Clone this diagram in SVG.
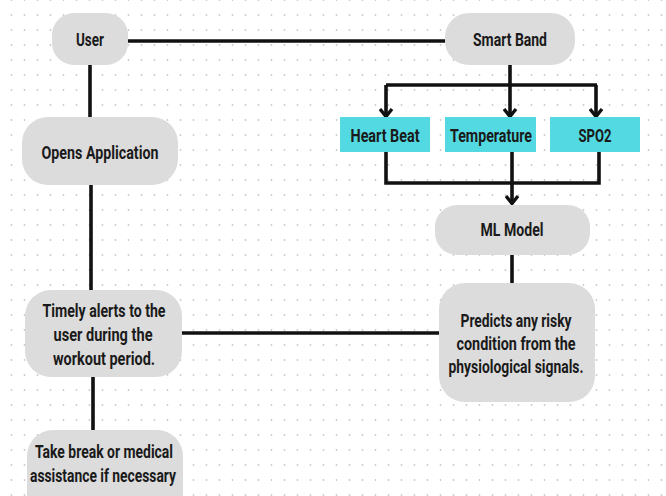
<svg xmlns="http://www.w3.org/2000/svg" width="666" height="496" viewBox="0 0 666 496">
<defs>
<pattern id="dots" x="5" y="8" width="13" height="15" patternUnits="userSpaceOnUse">
<circle cx="6.5" cy="7" r="0.9" fill="#c8c8c8"/>
</pattern>
<marker id="arr" markerWidth="12" markerHeight="15" viewBox="0 0 12 15" refX="10" refY="7.5" orient="auto" markerUnits="userSpaceOnUse">
<path d="M2,1.5 L9.5,7.5 L2,13.5" fill="none" stroke="#111" stroke-width="3.4" stroke-linejoin="miter"/>
</marker>
<style>
.n{fill:#dcdcdc}
.c{fill:#52d9e1}
.t{font-family:Roboto,"Liberation Sans",sans-serif;font-weight:bold;font-size:18px;fill:#1a1a1a;text-anchor:middle}
.e{fill:none;stroke:#111;stroke-width:3.6}
</style>
</defs>
<rect width="666" height="496" fill="#ffffff"/>
<rect width="666" height="496" fill="url(#dots)"/>
<g id="connectors">
<line class="e" x1="128" y1="41" x2="445" y2="41"/>
<line class="e" x1="90" y1="65" x2="90" y2="117"/>
<line class="e" x1="91" y1="185" x2="91" y2="290"/>
<line class="e" x1="93" y1="377" x2="93" y2="430"/>
<polyline class="e" points="510,65 510,85"/>
<line class="e" x1="386" y1="85" x2="597" y2="85"/>
<line class="e" x1="386" y1="85" x2="386" y2="117" marker-end="url(#arr)"/>
<line class="e" x1="510" y1="85" x2="510" y2="117" marker-end="url(#arr)"/>
<line class="e" x1="596" y1="85" x2="596" y2="117" marker-end="url(#arr)"/>
<polyline class="e" points="386,152 386,183 599,183 599,152"/>
<line class="e" x1="512" y1="152" x2="512" y2="204" marker-end="url(#arr)"/>
<line class="e" x1="512" y1="255" x2="512" y2="283"/>
<line class="e" x1="182" y1="333" x2="439" y2="333"/>
</g>
<g id="user">
<rect class="n" x="52" y="13" width="76" height="52" rx="22"/>
<text class="t" x="90" y="46" textLength="28" lengthAdjust="spacingAndGlyphs">User</text>
</g>
<g id="smart-band">
<rect class="n" x="445" y="13" width="130" height="52" rx="24"/>
<text class="t" x="510" y="46" textLength="74" lengthAdjust="spacingAndGlyphs">Smart Band</text>
</g>
<g id="opens-application">
<rect class="n" x="22" y="117" width="156" height="68" rx="26"/>
<text class="t" x="100" y="159" textLength="117" lengthAdjust="spacingAndGlyphs">Opens Application</text>
</g>
<g id="heart-beat">
<rect class="c" x="340" y="117" width="90" height="35"/>
<text class="t" x="385" y="142" textLength="69" lengthAdjust="spacingAndGlyphs">Heart Beat</text>
</g>
<g id="temperature">
<rect class="c" x="445" y="117" width="91" height="35"/>
<text class="t" x="491" y="142" textLength="82" lengthAdjust="spacingAndGlyphs">Temperature</text>
</g>
<g id="spo2">
<rect class="c" x="550" y="117" width="90" height="35"/>
<text class="t" x="595" y="142" textLength="33" lengthAdjust="spacingAndGlyphs">SPO2</text>
</g>
<g id="ml-model">
<rect class="n" x="435" y="205" width="155" height="50" rx="22"/>
<text class="t" x="512" y="236" textLength="63" lengthAdjust="spacingAndGlyphs">ML Model</text>
</g>
<g id="predicts">
<rect class="n" x="439" y="283" width="156" height="119" rx="26"/>
<text class="t" x="516" y="327" textLength="111" lengthAdjust="spacingAndGlyphs">Predicts any risky</text>
<text class="t" x="516" y="350" textLength="119" lengthAdjust="spacingAndGlyphs">condition from the</text>
<text class="t" x="516" y="373" textLength="135" lengthAdjust="spacingAndGlyphs">physiological signals.</text>
</g>
<g id="timely-alerts">
<rect class="n" x="25" y="290" width="157" height="87" rx="26"/>
<text class="t" x="104" y="317" textLength="123" lengthAdjust="spacingAndGlyphs">Timely alerts to the</text>
<text class="t" x="103" y="341" textLength="99" lengthAdjust="spacingAndGlyphs">user during the</text>
<text class="t" x="104" y="365" textLength="102" lengthAdjust="spacingAndGlyphs">workout period.</text>
</g>
<g id="take-break">
<rect class="n" x="27" y="430" width="156" height="90" rx="26"/>
<text class="t" x="104" y="458" textLength="138" lengthAdjust="spacingAndGlyphs">Take break or medical</text>
<text class="t" x="103" y="482" textLength="146" lengthAdjust="spacingAndGlyphs">assistance if necessary</text>
</g>
</svg>
